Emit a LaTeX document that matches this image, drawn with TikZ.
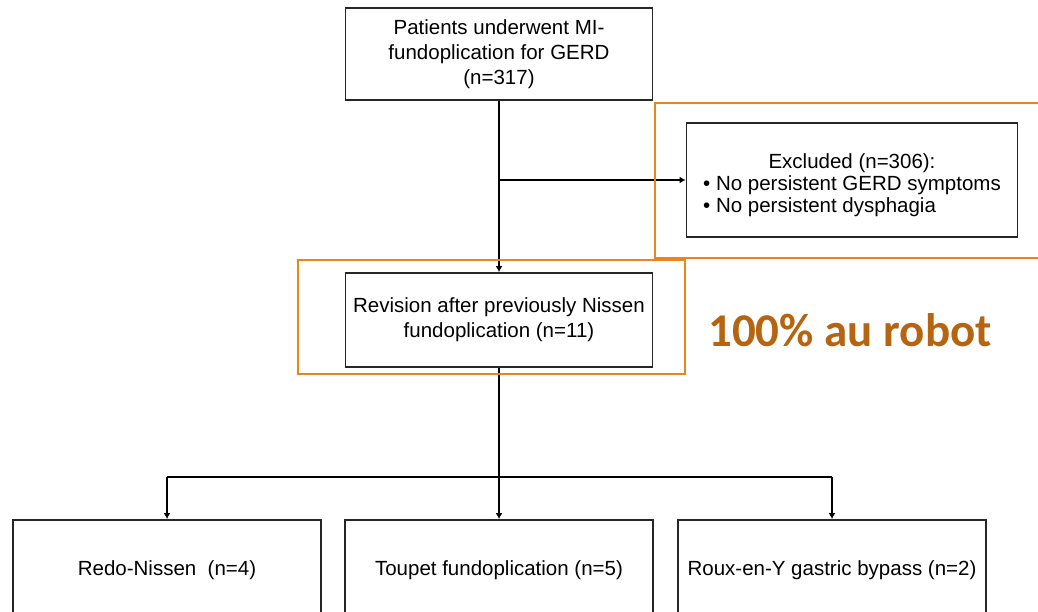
\documentclass[tikz,border=0pt]{standalone}
\usepackage{fontspec}
\setmainfont{Liberation Sans}
\newfontfamily\robotfont{Carlito}
\usetikzlibrary{arrows.meta}
\definecolor{frameorange}{RGB}{232,134,30}
\definecolor{robotbrown}{RGB}{182,100,16}

\begin{document}
\begin{tikzpicture}[x=1pt, y=-1pt,
    stage/.style ={rectangle, draw=black!85, line width=1.9pt, inner sep=0pt, minimum width=307pt,
                   font=\fontsize{20.5}{25}\selectfont, align=center},
    flow/.style ={line width=1.8pt, -{Latex[length=6pt,width=7pt]}},
    orangebox/.style ={draw=frameorange, line width=2.2pt}]
   \useasboundingbox (0,0) rectangle (1038,611);

   \node[stage, minimum height=92pt] (A) at (499,54) {Patients underwent MI-\\fundoplication for GERD\\(n=317)};
   \node[stage, minimum height=114pt, minimum width=331pt] (B) at (852,180)
      {\raisebox{-6pt}[\height][\depth]{\renewcommand{\arraystretch}{0.88}\begin{tabular}{@{}l@{}}
       \multicolumn{1}{@{}c@{}}{Excluded (n=306):}\\
       \textbullet\ No persistent GERD symptoms\\
       \textbullet\ No persistent dysphagia
       \end{tabular}}};
   \node[stage, minimum height=94pt] (C) at (499,320) {Revision after previously Nissen\\fundoplication (n=11)};
   \node[stage, minimum height=100pt, minimum width=308pt] (D) at (167,570) {\raisebox{3pt}{Redo-Nissen~ (n=4)}};
   \node[stage, minimum height=100pt, minimum width=308pt] (E) at (499,570) {\raisebox{3pt}{Toupet fundoplication (n=5)}};
   \node[stage, minimum height=100pt, minimum width=308pt] (F) at (832,570) {\raisebox{3pt}{Roux-en-Y gastric bypass (n=2)}};
   \node[font=\robotfont\bfseries\fontsize{47}{50}\selectfont, text=robotbrown] (R) at (850,330) {100\% au robot};

   \coordinate (J) at (A.south |- B.west);
   \coordinate (K) at (499,477);
   \coordinate (L) at (D.north |- K);
   \coordinate (M) at (F.north |- K);

   \draw[flow] (A) to (C);
   \draw[flow] (J) to (B);
   \draw[line width=1.8pt] (C) to (K);
   \draw[line width=1.8pt] (L) to (M);
   \draw[flow] (L) to (D);
   \draw[flow] (K) to (E);
   \draw[flow] (M) to (F);

   \draw[orangebox] (655,103) rectangle (1045,258);
   \draw[orangebox] (298,260) rectangle (685,374);
 \end{tikzpicture}
\end{document}
